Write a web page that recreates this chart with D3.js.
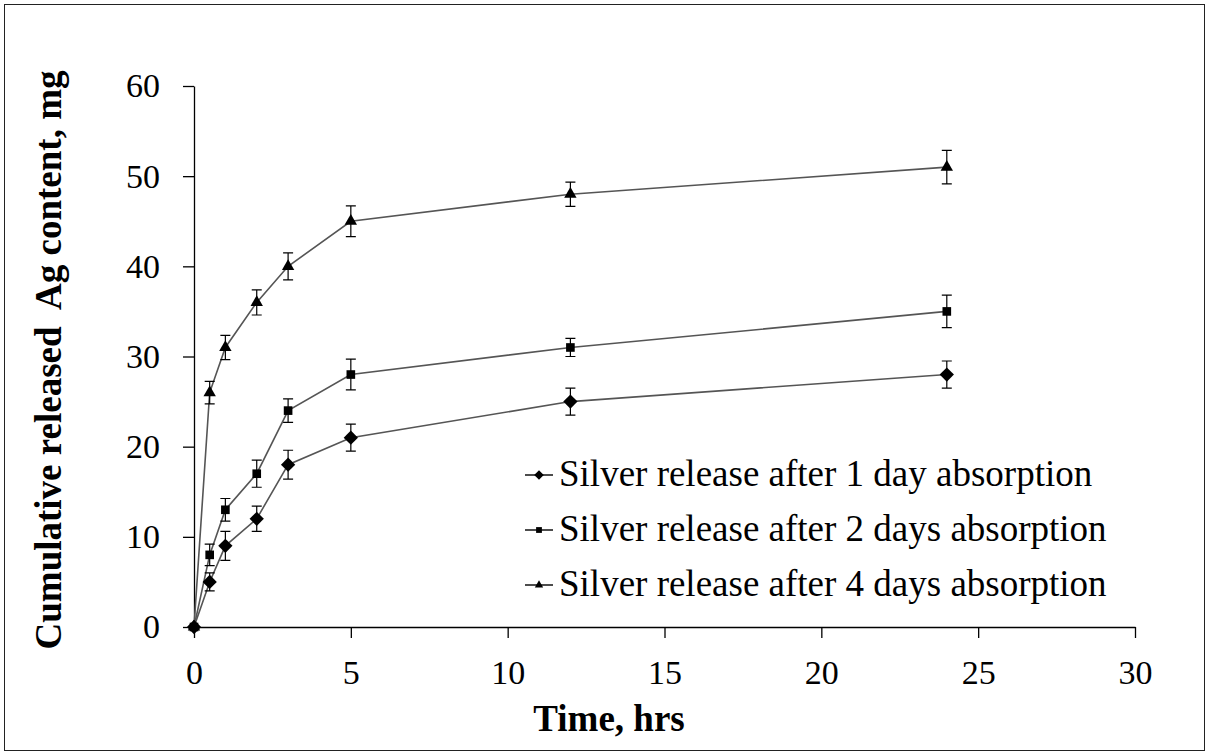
<!DOCTYPE html>
<html>
<head>
<meta charset="utf-8">
<script src="https://cdn.jsdelivr.net/npm/d3@7"></script>
<style>
  body { margin: 0; background: #fff; }
  svg { display: block; }
</style>
</head>
<body>
<div id="chart"></div>
<script>
// time points (hrs)
const times = [0, 0.5, 1, 2, 3, 5, 12, 24]

// cumulative released Ag, mg
const day1 = [0, 5, 9, 12, 18, 21, 25, 28]
const day2 = [0, 8, 13, 17, 24, 28, 31, 35]
const day4 = [0, 26, 31, 36, 40, 45, 48, 51]

// error bars (+/-)
const day1Err = [0, 1.0, 1.6, 1.4, 1.6, 1.5, 1.5, 1.5]
const day2Err = [0, 1.2, 1.25, 1.5, 1.3, 1.7, 1.0, 1.8]
const day4Err = [0, 1.25, 1.35, 1.4, 1.5, 1.7, 1.35, 1.85]

const seriesNames = [
  'Silver release after 1 day absorption',
  'Silver release after 2 days absorption',
  'Silver release after 4 days absorption'
]
const markerTypes = [d3.symbolDiamond2, d3.symbolSquare2, d3.symbolTriangle2]

const xTicks = [0, 5, 10, 15, 20, 25, 30]
const yTicks = [0, 10, 20, 30, 40, 50, 60]

const width = 1207
const height = 753
const margin = {top: 86, right: 72, bottom: 126, left: 194}

const x = d3.scaleLinear()
  .domain([0, 30])
  .range([margin.left, width - margin.right])
const y = d3.scaleLinear()
  .domain([0, 60])
  .range([height - margin.bottom, margin.top])

const font = '"Liberation Serif", "Times New Roman", serif'

const series = [day1, day2, day4].map((vals, i) => ({
  name: seriesNames[i],
  marker: markerTypes[i],
  points: times.map((t, j) => ({t: t, v: vals[j], e: [day1Err, day2Err, day4Err][i][j]}))
}))

const svg = d3.select('#chart').append('svg')
  .attr('width', width)
  .attr('height', height)

// frame round the whole picture
svg.append('rect')
  .attr('x', 4.5).attr('y', 4.5)
  .attr('width', 1200).attr('height', 746)
  .attr('fill', 'none')
  .attr('stroke', '#222')

// axes
const xAxis = g => g
  .attr('transform', `translate(0, ${y(0)})`)
  .call(d3.axisBottom(x).tickValues(xTicks).tickSize(11).tickPadding(22).tickSizeOuter(0))
  .call(g => g.selectAll('text').attr('font-size', 34).attr('font-family', font).attr('fill', '#000'))
  .call(g => g.selectAll('line, path').attr('stroke', '#000').attr('stroke-width', 1.3))

const yAxis = g => g
  .attr('transform', `translate(${x(0)}, 0)`)
  .call(d3.axisLeft(y).tickValues(yTicks).tickSize(11).tickPadding(23).tickSizeOuter(0))
  .call(g => g.selectAll('text').attr('font-size', 34).attr('font-family', font).attr('fill', '#000'))
  .call(g => g.selectAll('line, path').attr('stroke', '#000').attr('stroke-width', 1.3))

svg.append('g').call(xAxis)
svg.append('g').call(yAxis)

// axis titles
svg.append('text')
  .attr('x', 609)
  .attr('y', 731)
  .attr('text-anchor', 'middle')
  .attr('font-family', font)
  .attr('font-weight', 'bold')
  .attr('font-size', 37)
  .text('Time, hrs')

svg.append('text')
  .attr('transform', `translate(61, 360) rotate(-90)`)
  .attr('text-anchor', 'middle')
  .attr('font-family', font)
  .attr('font-weight', 'bold')
  .attr('font-size', 37)
  .style('white-space', 'pre')
  .text('Cumulative released  Ag content, mg')

// lines
const line = d3.line()
  .x(d => x(d.t))
  .y(d => y(d.v))

svg.append('g')
  .selectAll('path')
  .data(series)
  .join('path')
  .attr('d', d => line(d.points))
  .attr('fill', 'none')
  .attr('stroke', '#555')
  .attr('stroke-width', 1.6)

// error bars
const errG = svg.append('g')
  .attr('stroke', '#000')
  .attr('stroke-width', 1.2)
series.forEach(s => {
  const pts = s.points.filter(p => p.e > 0)
  errG.append('g').selectAll('path')
    .data(pts)
    .join('path')
    .attr('fill', 'none')
    .attr('d', p => {
      const cx = x(p.t), top = y(p.v + p.e), bot = y(p.v - p.e)
      return `M${cx},${top}V${bot}M${cx - 5},${top}H${cx + 5}M${cx - 5},${bot}H${cx + 5}`
    })
})

// markers: squares drawn last so they sit on top at the origin
const markerSize = [130, 95, 110]
const drawOrder = [0, 2, 1]
drawOrder.forEach(i => {
  const s = series[i]
  svg.append('g').selectAll('path')
    .data(s.points)
    .join('path')
    .attr('transform', p => `translate(${x(p.t)}, ${y(p.v)})`)
    .attr('d', d3.symbol().type(s.marker).size(markerSize[i]))
    .attr('fill', '#000')
})

// legend
const legend = svg.append('g')
  .selectAll('g')
  .data(series)
  .join('g')
  .attr('transform', (d, i) => `translate(525, ${475 + i * 55})`)

legend.append('line')
  .attr('x1', 0).attr('x2', 28)
  .attr('stroke', '#000')
  .attr('stroke-width', 1.4)

legend.append('path')
  .attr('transform', 'translate(14, 0)')
  .attr('d', (d, i) => d3.symbol().type(d.marker).size(markerSize[i] * 0.45)())
  .attr('fill', '#000')

legend.append('text')
  .attr('x', 34)
  .attr('dy', '0.3em')
  .attr('font-family', font)
  .attr('font-size', 37)
  .text(d => d.name)
</script>
</body>
</html>
